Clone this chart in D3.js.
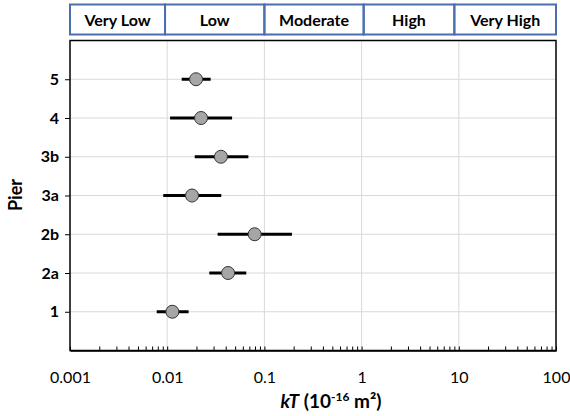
<!DOCTYPE html>
<html>
<head>
<meta charset="utf-8">
<script src="https://cdn.jsdelivr.net/npm/d3@7/dist/d3.min.js"></script>
<style>
  body { margin: 0; background: #fff; }
  svg { display: block; font-family: Lato, "Open Sans", sans-serif; }
</style>
</head>
<body>
<svg width="570" height="416"></svg>
<script>
var width  = 570;
var height = 416;

// piers, bottom to top
var piers  = ['1', '2a', '2b', '3a', '3b', '4', '5'];
var kT     = [0.0113, 0.0423, 0.0794, 0.0180, 0.0357, 0.0223, 0.0198];
var kTLow  = [0.0078, 0.0271, 0.0330, 0.0091, 0.0192, 0.0107, 0.0141];
var kTHigh = [0.0166, 0.0651, 0.1920, 0.0360, 0.0684, 0.0465, 0.0280];

var xTicks = [0.001, 0.01, 0.1, 1, 10, 100];
var bands  = ['Very Low', 'Low', 'Moderate', 'High', 'Very High'];
var bandEdges = [0.001, 0.0095, 0.1, 1.05, 9, 100];

var padLeft = 70, padRight = 556, padTop = 40.5, padBottom = 350.5;

var xScale = d3.scaleLog()
    .domain([0.001, 100])
    .range([padLeft, padRight]);

var yScale = d3.scaleLinear()
    .domain([0, piers.length + 1])
    .range([padBottom, padTop]);

var svg = d3.select('svg');

// band header
var band = svg.append('g');
band.selectAll('rect')
    .data(bands)
    .enter()
    .append('rect')
        .attr('x', (d, i) => xScale(bandEdges[i]))
        .attr('y', 4.5)
        .attr('width', (d, i) => xScale(bandEdges[i + 1]) - xScale(bandEdges[i]))
        .attr('height', 30)
        .attr('fill', 'none')
        .attr('stroke', '#4a6eae')
        .attr('stroke-width', 2);

band.selectAll('text')
    .data(bands)
    .enter()
    .append('text')
        .attr('x', (d, i) => (xScale(bandEdges[i]) + xScale(bandEdges[i + 1])) / 2)
        .attr('y', 20.5)
        .attr('dy', '0.35em')
        .attr('text-anchor', 'middle')
        .attr('font-size', 16)
        .attr('font-weight', 'bold')
        .text(d => d);

// grid
svg.append('g')
    .selectAll('line')
    .data(xTicks.slice(1, -1))
    .enter()
    .append('line')
        .attr('x1', d => xScale(d))
        .attr('x2', d => xScale(d))
        .attr('y1', padTop)
        .attr('y2', padBottom)
        .attr('stroke', '#d9d9d9')
        .attr('stroke-width', 1);

svg.append('g')
    .selectAll('line')
    .data(piers)
    .enter()
    .append('line')
        .attr('x1', padLeft)
        .attr('x2', padRight)
        .attr('y1', (d, i) => yScale(i + 1))
        .attr('y2', (d, i) => yScale(i + 1))
        .attr('stroke', '#d9d9d9')
        .attr('stroke-width', 1);

// frame
svg.append('rect')
    .attr('x', padLeft)
    .attr('y', padTop)
    .attr('width', padRight - padLeft)
    .attr('height', padBottom - padTop)
    .attr('fill', 'none')
    .attr('stroke', '#000')
    .attr('stroke-width', 1.5);

// x axis with minor ticks pointing in
var minor = [];
for (var e = -3; e < 2; e++) {
    for (var m = 1; m < 10; m++) minor.push(m * Math.pow(10, e));
}
minor.push(100);

var xAxis = d3.axisBottom(xScale)
    .tickValues(minor)
    .tickSize(-4)
    .tickSizeOuter(0)
    .tickFormat(d => xTicks.indexOf(d) >= 0 ? d3.format('~g')(d) : '');

var gx = svg.append('g')
    .attr('transform', 'translate(0,' + padBottom + ')')
    .call(xAxis);
gx.select('.domain').attr('stroke-width', 1.5);
gx.selectAll('.tick line').attr('stroke-width', 1);
gx.selectAll('.tick text')
    .attr('y', 21)
    .attr('font-family', 'Lato, sans-serif')
    .attr('font-size', 16)
    .attr('fill', '#000');

// y axis
var yAxis = d3.axisLeft(yScale)
    .tickValues(d3.range(1, piers.length + 1))
    .tickSize(5)
    .tickSizeOuter(0)
    .tickFormat(d => piers[d - 1]);

var gy = svg.append('g')
    .attr('transform', 'translate(' + padLeft + ',0)')
    .call(yAxis);
gy.select('.domain').remove();
gy.selectAll('.tick text')
    .attr('x', -11)
    .attr('font-family', 'Lato, sans-serif')
    .attr('font-size', 16)
    .attr('font-weight', 'bold')
    .attr('fill', '#000');

// error bars
svg.append('g')
    .selectAll('line')
    .data(piers)
    .enter()
    .append('line')
        .attr('x1', (d, i) => xScale(kTLow[i]))
        .attr('x2', (d, i) => xScale(kTHigh[i]))
        .attr('y1', (d, i) => yScale(i + 1))
        .attr('y2', (d, i) => yScale(i + 1))
        .attr('stroke', '#000')
        .attr('stroke-width', 3);

svg.append('g')
    .selectAll('circle')
    .data(piers)
    .enter()
    .append('circle')
        .attr('cx', (d, i) => xScale(kT[i]))
        .attr('cy', (d, i) => yScale(i + 1))
        .attr('r', 6.5)
        .attr('fill', '#a6a6a6')
        .attr('stroke', '#333')
        .attr('stroke-width', 1);

// axis titles
var xt = svg.append('text')
    .attr('x', (padLeft + padRight) / 2 + 18)
    .attr('y', 408)
    .attr('text-anchor', 'middle')
    .attr('font-size', 19)
    .attr('font-weight', 'bold');
xt.append('tspan').attr('font-style', 'italic').text('kT');
xt.append('tspan').text(' (10');
xt.append('tspan').attr('font-size', 12).attr('dy', -7).text('-16');
xt.append('tspan').attr('dy', 7).text(' m²)');

svg.append('text')
    .attr('transform', 'rotate(-90)')
    .attr('x', -195)
    .attr('y', 22)
    .attr('text-anchor', 'middle')
    .attr('font-size', 18)
    .attr('font-weight', 'bold')
    .text('Pier');
</script>
</body>
</html>
